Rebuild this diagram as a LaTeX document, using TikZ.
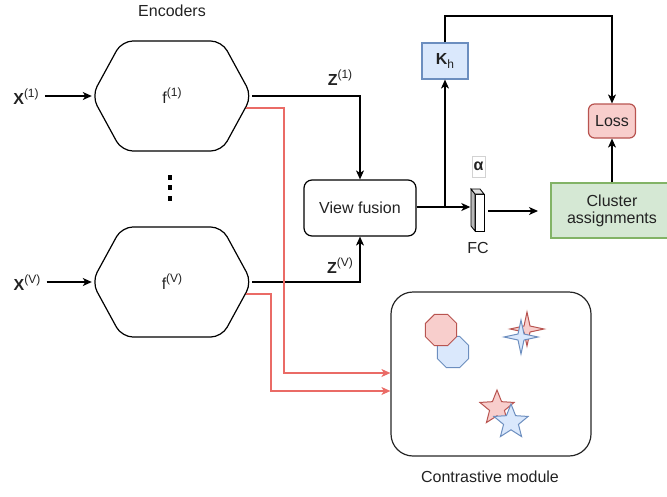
\documentclass[tikz,border=0pt]{standalone}
\usepackage{fontspec}
\setmainfont{Liberation Sans}
\usetikzlibrary{shapes.geometric,arrows.meta}
\definecolor{redfill}{HTML}{F8CECC}
\definecolor{redline}{HTML}{B85450}
\definecolor{bluefill}{HTML}{DAE8FC}
\definecolor{blueline}{HTML}{6C8EBF}
\definecolor{greenfill}{HTML}{D5E8D4}
\definecolor{greenline}{HTML}{82B366}
\definecolor{arrowred}{HTML}{EA6B66}
\definecolor{txt}{HTML}{222222}
\newcommand{\mysup}[1]{\raisebox{0.42em}{\fontsize{12}{12}\selectfont #1}}
\newcommand{\mysub}[1]{\raisebox{-0.28em}{\fontsize{12}{12}\selectfont #1}}
\begin{document}
\begin{tikzpicture}[x=1pt,y=-1pt,
  every node/.style={font=\fontsize{16}{19}\selectfont, text=txt},
  lbl/.style={inner sep=0pt},
  encshape/.style={minimum width=160pt, minimum height=110pt, inner sep=0pt},
  hexline/.style={draw=black, line width=1.2pt, rounded corners=11pt},
  conn/.style={draw=black, line width=1.2pt, -{Stealth[length=9pt,width=8pt,inset=2.5pt]}},
  plain/.style={draw=black, line width=1.2pt},
  redconn/.style={draw=arrowred, line width=1.2pt, -{Stealth[length=9pt,width=8pt,inset=2.5pt]}},
  roundbox/.style={draw=black, line width=1.2pt, rounded corners=8pt, fill=white},
  redshape/.style={draw=redline, fill=redfill, line width=1pt, inner sep=0pt},
  blueshape/.style={draw=blueline, fill=bluefill, line width=1pt, inner sep=0pt},
]
\useasboundingbox (0,0) rectangle (667,496);

% Encoders
\node[lbl] (enctitle) at (172,11) {Encoders};
\node[encshape] (enc1) at (172,96) {f\mysup{(1)}};
\node[encshape] (encV) at (172,282) {f\mysup{(V)}};
\draw[hexline] (enc1.west) -- ++(30,-55) -- ++(100,0) -- ++(30,55) -- ++(-30,55) -- ++(-100,0) -- cycle;
\draw[hexline] (encV.west) -- ++(30,-55) -- ++(100,0) -- ++(30,55) -- ++(-30,55) -- ++(-100,0) -- cycle;

% vertical dots
\fill[black] (168,174.5) rectangle (172,179.5);
\fill[black] (168,185) rectangle (172,190);
\fill[black] (168,195.5) rectangle (172,200.5);

% inputs
\node[lbl] (x1) at (26,97) {\textbf{X}\mysup{(1)}};
\node[lbl] (xV) at (27,283) {\textbf{X}\mysup{(V)}};
\draw[conn] (x1.east |- enc1.west) ++(6,0) coordinate (x1s) -- (enc1.west);
\draw[conn] (xV.east |- encV.west) ++(6,0) coordinate (xVs) -- (encV.west);

% view fusion
\node[roundbox, minimum width=112pt, minimum height=56pt] (vf) at (360,208) {View fusion};
\node[lbl] (z1) at (340,78) {\textbf{Z}\mysup{(1)}};
\node[lbl] (zV) at (340,266) {\textbf{Z}\mysup{(V)}};
\draw[conn] (enc1.east) -| (vf.north);
\draw[conn] (encV.east) -| (vf.south);

% FC cuboid
\node[minimum width=14pt, minimum height=42pt, inner sep=0pt] (fc) at (477.5,210) {};
\filldraw[draw=black, fill=white, line width=0.8pt] (475,194) rectangle (484,231);
\filldraw[draw=black, fill=gray!55, line width=0.8pt] (471,189) -- (475,194) -- (475,231) -- (471,226) -- cycle;
\filldraw[draw=black, fill=gray!25, line width=0.8pt] (471,189) -- (480,189) -- (484,194) -- (475,194) -- cycle;
\node[lbl] (fclbl) at (478,248) {FC};
\node[draw=gray!35, line width=0.6pt, minimum width=13pt, minimum height=21pt, inner sep=0pt] (alpha) at (478.5,166.5) {\textbf{α}};

\coordinate (br) at (445,207);
\draw[conn] (vf.east |- br) -- (fc.west |- br);

% K_h
\node[draw=blueline, fill=bluefill, line width=1.2pt, minimum width=46pt, minimum height=36pt, inner sep=0pt] (kh) at (445,61) {\textbf{K}\mysub{h}};
\draw[conn] (br) -- (kh.south);

% Loss
\node[draw=redline, fill=redfill, line width=1.2pt, rounded corners=6pt, minimum width=47pt, minimum height=34pt, inner sep=0pt] (loss) at (612,121) {Loss};
\coordinate (topline) at (445,16);
\draw[conn] (kh.north) -- (topline) -| (loss.north);

% Cluster assignments
\node[draw=greenline, fill=greenfill, line width=1.2pt, minimum width=122pt, minimum height=55pt, inner sep=0pt, align=center] (cluster) at (612,210.5) {Cluster\\[-2pt]assignments};
\draw[conn] (cluster.north) -- (loss.south);
\coordinate (fcout) at (488,211);
\coordinate (clin) at (538,211);
\draw[conn] (fcout) -- (clin);

% Contrastive module
\node[draw=black!85, line width=1.2pt, rounded corners=22pt, minimum width=200pt, minimum height=164pt, inner sep=0pt] (cm) at (491,374) {};
\node[lbl] (cmlbl) at (490,477) {Contrastive module};

% shapes inside
\node[blueshape, regular polygon, regular polygon sides=8, minimum size=34pt] (octb) at (453,352) {};
\node[redshape, regular polygon, regular polygon sides=8, minimum size=34pt] (octr) at (441,330) {};
\node[redshape, star, star points=4, star point ratio=4, minimum size=34pt] (s4r) at (527,329) {};
\node[blueshape, star, star points=4, star point ratio=4, minimum size=34pt] (s4b) at (521,337) {};
\node[redshape, star, star points=5, star point ratio=2.3, minimum size=36pt] (s5r) at (497,408) {};
\node[blueshape, star, star points=5, star point ratio=2.3, minimum size=36pt] (s5b) at (511,422) {};

% red connectors
\coordinate (e1r) at (245.5,108);
\coordinate (eVr) at (245.5,294);
\coordinate (c1) at (284,373);
\coordinate (c2) at (271,391);
\draw[redconn] (e1r) -| (c1) -- (c1 -| cm.west);
\draw[redconn] (eVr) -| (c2) -- (c2 -| cm.west);
\end{tikzpicture}
\end{document}
